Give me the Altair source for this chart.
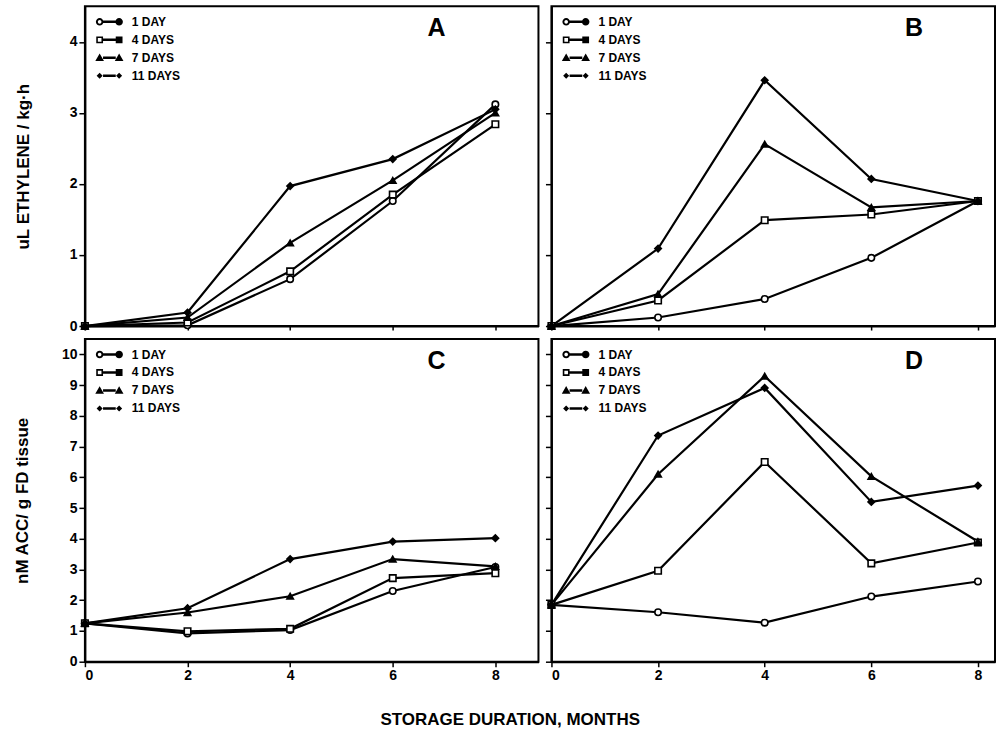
import math
import altair as alt
import pandas as pd

# ---------------- data ----------------
months = [0, 2, 4, 6, 8]
series = ["1 DAY", "4 DAYS", "7 DAYS", "11 DAYS"]

# Panel A - ethylene (uL / kg h)
a_1day = [0.00, 0.01, 0.66, 1.76, 3.12]
a_4days = [0.00, 0.05, 0.77, 1.85, 2.84]
a_7days = [0.00, 0.12, 1.17, 2.05, 3.00]
a_11days = [0.00, 0.19, 1.97, 2.35, 3.05]

# Panel B - ethylene (uL / kg h)
b_1day = [0.00, 0.12, 0.38, 0.96, 1.76]
b_4days = [0.00, 0.36, 1.49, 1.57, 1.76]
b_7days = [0.00, 0.45, 2.56, 1.67, 1.76]
b_11days = [0.00, 1.09, 3.46, 2.07, 1.76]

# Panel C - ACC (nM / g FD tissue)
c_1day = [1.25, 0.92, 1.03, 2.30, 3.08]
c_4days = [1.25, 0.99, 1.07, 2.72, 2.88]
c_7days = [1.25, 1.60, 2.13, 3.34, 3.10]
c_11days = [1.25, 1.74, 3.34, 3.91, 4.02]

# Panel D - ACC (nM / g FD tissue)
d_1day = [1.85, 1.61, 1.27, 2.12, 2.61]
d_4days = [1.85, 2.96, 6.50, 3.20, 3.88]
d_7days = [1.85, 6.10, 9.29, 6.03, 3.91]
d_11days = [1.85, 7.36, 8.91, 5.20, 5.73]

ticks_eth = [0, 1, 2, 3, 4]
ticks_acc = [0, 1, 2, 3, 4, 5, 6, 7, 8, 9, 10]

# marker style per series (shape, fill)
marker_shape = ["circle", "square", "triangle-up", "diamond"]
marker_fill = ["white", "white", "black", "black"]


def make_frame(lists):
    rows = []
    for s, vals in zip(series, lists):
        for m, v in zip(months, vals):
            rows.append({"month": m, "value": v, "series": s})
    return pd.DataFrame(rows)


# ---------------- legend glyphs (marker - line - marker), polygons only ----------------
def poly(pts):
    return "M" + "L".join(f"{px:.4f},{py:.4f}" for px, py in pts) + "Z"


def circ_pts(cx, r, cw=True, n=16):
    pts = [(cx + r * math.cos(2 * math.pi * k / n), r * math.sin(2 * math.pi * k / n))
           for k in range(n)]
    return pts if cw else pts[::-1]


def sq_pts(cx, r, cw=True):
    pts = [(cx - r, -r), (cx + r, -r), (cx + r, r), (cx - r, r)]
    return pts if cw else pts[::-1]


def tri_pts(cx, r):
    return [(cx, -r * 1.15), (cx + r * 1.15, r * 0.85), (cx - r * 1.15, r * 0.85)]


def dia_pts(cx, r):
    return [(cx, -r), (cx + r, 0), (cx, r), (cx - r, 0)]


def glyphs(eps):
    R, HOLE, CX = 0.58 + eps, 0.28, 1.5 + eps
    bar = poly([(-CX + R * 0.9, -0.19), (CX - R * 0.9, -0.19),
                (CX - R * 0.9, 0.19), (-CX + R * 0.9, 0.19)])
    return [
        poly(circ_pts(-CX, R)) + poly(circ_pts(-CX, HOLE, False)) + bar + poly(circ_pts(CX, R)),
        poly(sq_pts(-CX, R * 0.9)) + poly(sq_pts(-CX, HOLE, False)) + bar + poly(sq_pts(CX, R * 0.9)),
        poly(tri_pts(-CX, R)) + bar + poly(tri_pts(CX, R)),
        poly(dia_pts(-CX, R * 0.8)) + bar + poly(dia_pts(CX, R * 0.8)),
    ]


FONT = "Liberation Sans"


def panel(key, eps, lists, xmax, ymax, width, height, yticks, xlabels, ylabels, ytitle,
          letter, letter_dx, title_pad):
    df = make_frame(lists)
    df[key] = df["series"]
    x = alt.X(
        "month:Q",
        scale=alt.Scale(domain=[0, xmax], nice=False, zero=False),
        axis=alt.Axis(values=months, labels=xlabels, title=None, grid=False,
                      tickSize=5 if xlabels else 4, labelPadding=2),
    )
    y = alt.Y(
        "value:Q",
        scale=alt.Scale(domain=[0, ymax], nice=False),
        axis=alt.Axis(values=yticks, labels=ylabels, title=ytitle, grid=False,
                      tickSize=6, labelPadding=2, titlePadding=title_pad),
    )
    base = alt.Chart(df)
    lines = base.mark_line(color="black", strokeWidth=2.2).encode(
        x=x, y=y, detail="series:N")
    layers = [lines]
    for s, shp, fil in zip(series, marker_shape, marker_fill):
        layers.append(
            base.transform_filter(alt.datum.series == s).mark_point(
                shape=shp, size=42, stroke="black", strokeWidth=1.6,
                fill=fil, opacity=1, fillOpacity=1,
            ).encode(x=x, y=y)
        )
    # legend layer (last): invisible points whose legend draws "marker - line - marker"
    leg = base.mark_point(opacity=0, filled=True, color="black").encode(
        x=x, y=y,
        shape=alt.Shape(
            f"{key}:N",
            scale=alt.Scale(domain=series, range=glyphs(eps)),
            legend=alt.Legend(
                title=None, orient="none", legendX=18, legendY=9,
                symbolSize=169, symbolStrokeWidth=0, symbolFillColor="black",
                labelFont=FONT, labelFontSize=12, labelFontWeight="bold",
                labelColor="black", labelOffset=16, rowPadding=5,
            ),
        ),
    )
    layers.append(leg)
    return alt.layer(*layers).properties(
        width=width, height=height,
        title=alt.TitleParams(letter, orient="top", anchor="end", frame="group",
                              baseline="top", offset=0, dx=letter_dx, dy=35,
                              font=FONT, fontSize=25, fontWeight="bold",
                              color="black"),
    )


A = panel("key_a", 0.000, [a_1day, a_4days, a_7days, a_11days], 8.84, 4.5, 454, 320,
          ticks_eth, False, True, "uL ETHYLENE / kg·h", "A", -93, 37)
B = panel("key_b", 0.001, [b_1day, b_4days, b_7days, b_11days], 8.32, 4.5, 444, 320,
          ticks_eth, False, False, None, "B", -72, 0)
C = panel("key_c", 0.002, [c_1day, c_4days, c_7days, c_11days], 8.84, 10.5, 454, 323,
          ticks_acc, True, True, "nM ACC/ g FD tissue", "C", -93, 30)
D = panel("key_d", 0.003, [d_1day, d_4days, d_7days, d_11days], 8.32, 10.5, 444, 323,
          ticks_acc, True, False, None, "D", -72, 0)

chart = alt.concat(
    A, B, C, D, columns=2, spacing={"row": 4, "column": 4}
).resolve_scale(
    shape="independent", x="independent", y="independent"
).resolve_legend(
    shape="independent"
).properties(
    title=alt.TitleParams("STORAGE DURATION, MONTHS", orient="bottom",
                          anchor="middle", dx=6, offset=28, font=FONT,
                          fontSize=17, fontWeight="bold", color="black"),
    padding={"left": 12, "top": 5, "right": 1, "bottom": 4},
    background="white",
).configure_view(
    stroke="black", strokeWidth=2
).configure_axis(
    grid=False, domainColor="black", domainWidth=2, tickColor="black",
    tickWidth=1.5, labelFont=FONT, labelFontSize=14, labelFontWeight="bold",
    labelColor="black", titleFont=FONT, titleFontSize=17, titleFontWeight="bold",
    titleColor="black",
)

chart.save("out.html", embed_options={"renderer": "svg", "actions": False})
